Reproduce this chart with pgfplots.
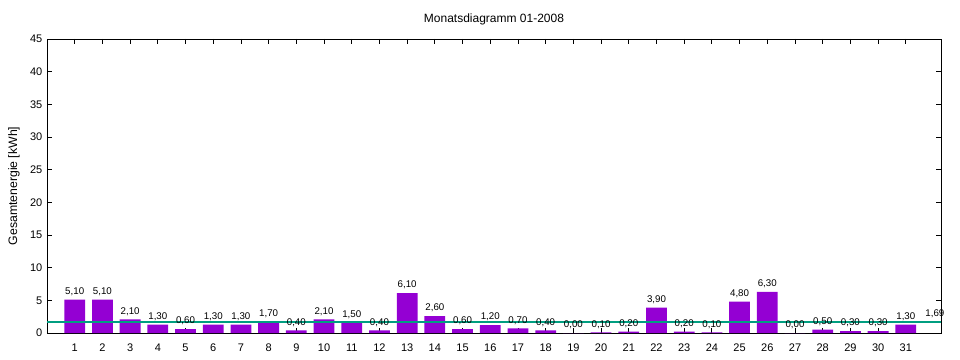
\documentclass[border=0pt]{standalone}
\usepackage{pgfplots}
\pgfplotsset{compat=1.18}
\usepackage{fontspec}
\setmainfont{Liberation Sans}
\definecolor{barviolet}{RGB}{148,0,211}
\definecolor{avgline}{RGB}{0,158,128}
\begin{document}
\begin{tikzpicture}[x=1pt,y=1pt]
\begin{axis}[
  scale only axis,
  width=670.5bp, height=220.5bp,
  xmin=0, xmax=32.27, ymin=0, ymax=45,
  xtick={1,...,31}, ytick={0,5,...,45},
  tick align=inside,
  major tick length=4bp,
  axis line style={black, line width=0.6pt},
  tick style={black, line width=0.6pt},
  tick label style={font=\fontsize{8.25bp}{9bp}\selectfont},
  xticklabel style={yshift=-4.5bp},
  /pgf/number format/assume math mode=true,
  title={Monatsdiagramm 01-2008},
  title style={font=\fontsize{9bp}{10bp}\selectfont, yshift=1bp},
  ylabel={Gesamtenergie [kWh]},
  ylabel style={font=\fontsize{9.2bp}{10bp}\selectfont, yshift=1bp},
  clip=false,
]
\addplot[ybar, bar width=0.75, fill=barviolet, draw=none,
  nodes near coords,
  nodes near coords style={font=\fontsize{7.3bp}{8bp}\selectfont, text=black, yshift=-0.5bp,
    /pgf/number format/.cd, fixed, fixed zerofill, precision=2, use comma, assume math mode=true},
] coordinates {
(1,5.10) (2,5.10) (3,2.10) (4,1.30) (5,0.60) (6,1.30) (7,1.30) (8,1.70) (9,0.40) (10,2.10)
(11,1.50) (12,0.40) (13,6.10) (14,2.60) (15,0.60) (16,1.20) (17,0.70) (18,0.40) (19,0.00) (20,0.10)
(21,0.20) (22,3.90) (23,0.20) (24,0.10) (25,4.80) (26,6.30) (27,0.00) (28,0.50) (29,0.30) (30,0.30)
(31,1.30)
};
\addplot[avgline, line width=0.9pt, forget plot] coordinates {(0,1.69) (32.27,1.69)};
\addplot[only marks, mark=none, nodes near coords,
  nodes near coords style={font=\fontsize{7.3bp}{8bp}\selectfont, text=black, anchor=south, yshift=-0.5bp,
    /pgf/number format/.cd, fixed, fixed zerofill, precision=2, use comma, assume math mode=true},
] coordinates {(32.05,1.69)};
\end{axis}
\pgfresetboundingbox
\path[use as bounding box] ([xshift=-35.25bp,yshift=-20.25bp]current axis.south west)
  rectangle ([xshift=14.25bp,yshift=29.25bp]current axis.north east);
\end{tikzpicture}
\end{document}
